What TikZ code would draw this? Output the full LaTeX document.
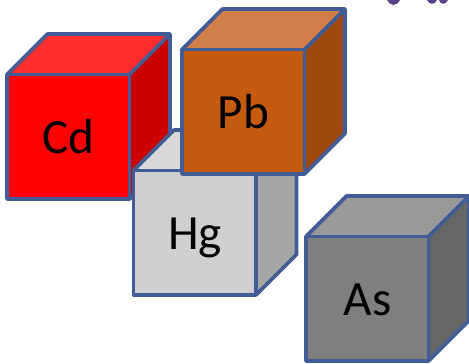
\documentclass[tikz,border=0pt]{standalone}
\usepackage{fontspec}
\setmainfont{Carlito}
\definecolor{edgeBlue}{RGB}{66,92,150}
\definecolor{inkPurple}{RGB}{88,66,140}
\definecolor{cdFront}{RGB}{255,0,0}
\definecolor{cdTop}{RGB}{255,45,45}
\definecolor{cdSide}{RGB}{204,0,0}
\definecolor{pbFront}{RGB}{197,90,17}
\definecolor{pbTop}{RGB}{208,125,72}
\definecolor{pbSide}{RGB}{158,72,14}
\definecolor{hgFront}{RGB}{208,206,206}
\definecolor{hgTop}{RGB}{217,215,215}
\definecolor{hgSide}{RGB}{166,165,165}
\definecolor{asFront}{RGB}{127,127,127}
\definecolor{asTop}{RGB}{153,153,153}
\definecolor{asSide}{RGB}{102,102,102}
% one cube: #1 lower left corner of the front, #2 colour prefix, #3 symbol
\newcommand{\cube}[3]{
  \begin{scope}[shift={#1}]
    \fill[#2Front] (0,0) rectangle (1.225,1.245);
    \fill[#2Top] (0,1.245) -- (0.405,1.65) -- (1.63,1.65) -- (1.225,1.245) -- cycle;
    \fill[#2Side] (1.225,0) -- (1.63,0.405) -- (1.63,1.65) -- (1.225,1.245) -- cycle;
    \draw[cubeedge] (0,0) rectangle (1.225,1.245);
    \draw[cubeedge] (0,1.245) -- (0.405,1.65) -- (1.63,1.65) -- (1.63,0.405) -- (1.225,0);
    \draw[cubeedge] (1.225,1.245) -- (1.63,1.65);
    \node[symbol] (#2) at (0.615,0.46) {#3};
  \end{scope}
}
\begin{document}
\begin{tikzpicture}[
    cubeedge/.style={draw=edgeBlue, line width=1.05pt, line join=round},
    symbol/.style={font=\fontsize{14}{15}\selectfont, text=black, inner sep=0pt, anchor=base}
  ]
  \useasboundingbox (0,0) rectangle (4.69,3.63);
  % back to front
  \cube{(0.07,1.64)}{cd}{Cd}
  \cube{(1.335,0.68)}{hg}{Hg}
  \cube{(1.82,1.89)}{pb}{Pb}
  \cube{(3.06,0.02)}{as}{As}
  % bits of lettering cut off by the top edge
  \fill[inkPurple] (3.87,3.63) .. controls (3.90,3.57) and (3.96,3.56) .. (4.00,3.63) -- cycle;
  \fill[inkPurple] (4.27,3.63) .. controls (4.29,3.58) and (4.35,3.58) .. (4.37,3.63) -- cycle;
  \fill[inkPurple] (4.39,3.63) .. controls (4.40,3.58) and (4.46,3.58) .. (4.48,3.63) -- cycle;
\end{tikzpicture}
\end{document}
